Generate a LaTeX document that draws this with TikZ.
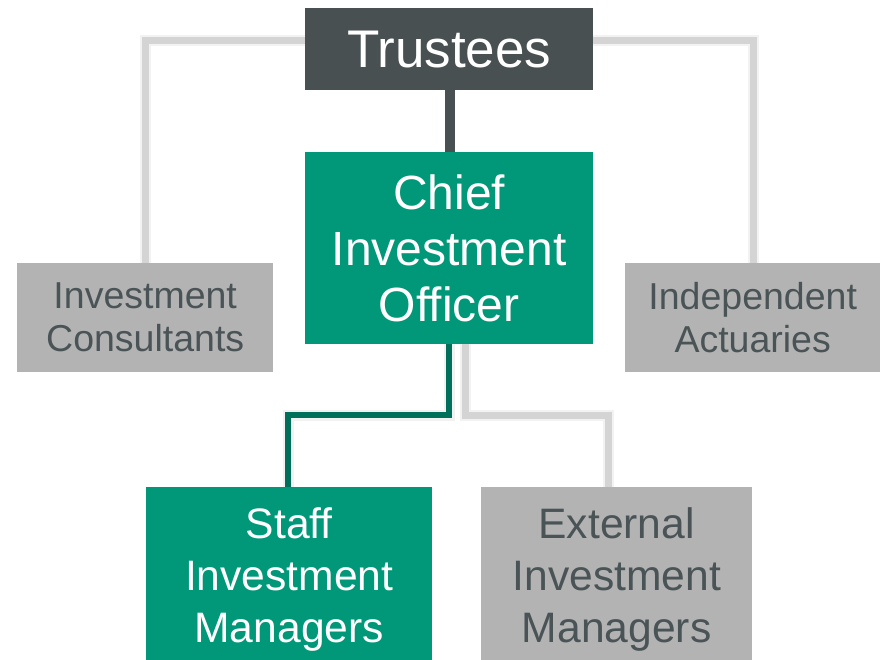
\documentclass[tikz,border=0pt]{standalone}
\usepackage{fontspec}
\setmainfont{Liberation Sans}
\definecolor{slate}{HTML}{485052}
\definecolor{teal}{HTML}{009878}
\definecolor{darkteal}{HTML}{00705A}
\definecolor{boxgrey}{HTML}{B3B3B3}
\definecolor{linegrey}{HTML}{D4D4D4}
\definecolor{textgrey}{HTML}{4A5456}
\pgfdeclarelayer{background}
\pgfsetlayers{background,main}
\begin{document}
\begin{tikzpicture}[x=1pt,y=-1pt,
  orgbox/.style={inner sep=0pt, align=center, anchor=north west},
  lead/.style={orgbox, fill=slate, text=white},
  core/.style={orgbox, fill=teal, text=white},
  side/.style={orgbox, fill=boxgrey, text=textgrey},
  shade/.style={draw=black, opacity=0.05, line width=11pt, shift={(2pt,-3pt)}},
  greyline/.style={draw=linegrey, line width=7pt},
  tealline/.style={draw=darkteal, line width=6pt},
  slateline/.style={draw=slate, line width=10pt}]
\useasboundingbox (0,0) rectangle (881,659);

% boxes (the two bottom boxes run on past the lower page edge)
\node[lead, minimum width=288pt, minimum height=82pt,
  font=\fontsize{53}{58}\selectfont] (tr) at (305,8) {Trustees};
\node[core, minimum width=288pt, minimum height=192pt,
  font=\fontsize{48}{56}\selectfont] (cio) at (305,152)
  {Chief\\Investment\\Officer};
\node[side, minimum width=256pt, minimum height=109pt,
  font=\fontsize{37.5}{43}\selectfont] (ic) at (17,263)
  {Investment\\Consultants};
\node[side, minimum width=255pt, minimum height=109pt,
  font=\fontsize{37.5}{43}\selectfont] (ia) at (625,263)
  {Independent\\Actuaries};
\node[core, minimum width=286pt, minimum height=184pt,
  font=\fontsize{42.6}{52}\selectfont] (sm) at (146,487)
  {Staff\\Investment\\Managers};
\node[side, minimum width=271pt, minimum height=184pt,
  font=\fontsize{42.6}{52}\selectfont] (em) at (481,487)
  {External\\Investment\\Managers};

% connector corners
\coordinate (lc) at (145,40);
\coordinate (rc) at (753,40);
\coordinate (s1) at (449,415);
\coordinate (s2) at (288,415);
\coordinate (e1) at (465,415);
\coordinate (e2) at (608,415);
\coordinate (mid) at (450,0);

\begin{pgfonlayer}{background}
% soft shadows under the connectors
\path[shade] (tr.west |- lc) -- (lc) -- (lc |- ic.north);
\path[shade] (tr.east |- rc) -- (rc) -- (rc |- ia.north);
\path[shade] (cio.south -| e1) -- (e1) -- (e2) -- (e2 |- em.north);
\path[shade] (cio.south -| s1) -- (s1) -- (s2) -- (s2 |- sm.north);
% connectors
\draw[greyline] (tr.west |- lc) -- (lc) -- (lc |- ic.north);
\draw[greyline] (tr.east |- rc) -- (rc) -- (rc |- ia.north);
\draw[greyline] (cio.south -| e1) -- (e1) -- (e2) -- (e2 |- em.north);
\draw[tealline] (cio.south -| s1) -- (s1) -- (s2) -- (s2 |- sm.north);
\draw[slateline] (tr.south -| mid) -- (cio.north -| mid);
\end{pgfonlayer}
\end{tikzpicture}
\end{document}
